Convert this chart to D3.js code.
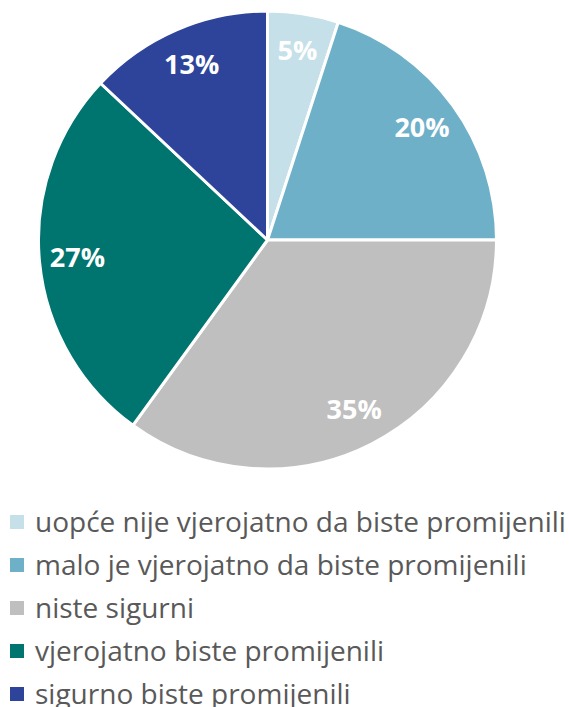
<!DOCTYPE html>
<html>
<head>
<meta charset="utf-8">
<script src="https://cdn.jsdelivr.net/npm/d3@7"></script>
<style>
  html, body { margin: 0; padding: 0; background: #fff; }
  svg { display: block; }
</style>
</head>
<body>
<svg id="chart" width="570" height="707"></svg>
<script>
// Survey answers and their shares (%)
const categories = [
  "uopće nije vjerojatno da biste promijenili",
  "malo je vjerojatno da biste promijenili",
  "niste sigurni",
  "vjerojatno biste promijenili",
  "sigurno biste promijenili"
];
const values = [5, 20, 35, 27, 13];
const colors = ["#c5e0e8", "#6eb0c8", "#bfbfbf", "#00746f", "#2e449a"];

const svg = d3.select("#chart");
const cx = 267.5, cy = 240, R = 229;

const pie = d3.pie().sort(null).value(d => d.value);
const data = categories.map((c, i) => ({ name: c, value: values[i], color: colors[i] }));
const arcs = pie(data);

const arc = d3.arc().innerRadius(0).outerRadius(R);
const labelArc = d3.arc().innerRadius(191).outerRadius(191);

const g = svg.append("g").attr("transform", `translate(${cx},${cy})`);

g.selectAll("path.slice")
  .data(arcs)
  .join("path")
  .attr("class", "slice")
  .attr("d", arc)
  .attr("fill", d => d.data.color)
  .attr("stroke", "#fff")
  .attr("stroke-width", 3)
  .attr("stroke-linejoin", "round");

g.selectAll("text.pct")
  .data(arcs)
  .join("text")
  .attr("class", "pct")
  .attr("transform", d => `translate(${labelArc.centroid(d)})`)
  .attr("text-anchor", "middle")
  .attr("dy", "0.33em")
  .attr("fill", "#fff")
  .attr("font-family", "'Open Sans', sans-serif")
  .attr("font-weight", 700)
  .attr("font-size", 27)
  .text(d => d.data.value + "%");

// Legend
const legend = svg.append("g");
const rowY = d3.scalePoint().domain(categories).range([522, 694]);

const rows = legend.selectAll("g.row")
  .data(data)
  .join("g")
  .attr("class", "row")
  .attr("transform", d => `translate(0,${rowY(d.name)})`);

rows.append("rect")
  .attr("x", 10).attr("y", -7)
  .attr("width", 14).attr("height", 14)
  .attr("fill", d => d.color);

rows.append("text")
  .attr("x", 35)
  .attr("dy", "0.36em")
  .attr("fill", "#595959")
  .attr("font-family", "'Open Sans', sans-serif")
  .attr("font-size", 28)
  .text(d => d.name);
</script>
</body>
</html>
